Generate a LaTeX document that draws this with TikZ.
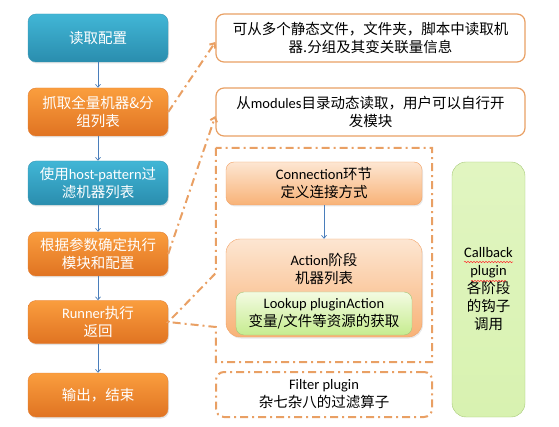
\documentclass[tikz,border=0pt]{standalone}
\usepackage{fontspec}
\setmainfont{Noto Sans CJK SC}
\newfontfamily\latinfont{Carlito}
\newcommand{\en}[1]{{\latinfont #1}}
\usepackage{tikz}
\usetikzlibrary{arrows.meta,positioning,shadows,decorations.pathmorphing}
\usepackage{xcolor}

\definecolor{tealtop}{HTML}{41B6D6}
\definecolor{tealbot}{HTML}{2A8DAE}
\definecolor{orgtop}{HTML}{FA9E3E}
\definecolor{orgbot}{HTML}{E07322}
\definecolor{peachtop}{HTML}{FDE6D2}
\definecolor{peachbot}{HTML}{F8B277}
\definecolor{peachline}{HTML}{F2A266}
\definecolor{limetop}{HTML}{F3FBE2}
\definecolor{limebot}{HTML}{C6EC8F}
\definecolor{limeline}{HTML}{A6C878}
\definecolor{noteline}{HTML}{E9A064}
\definecolor{flowblue}{HTML}{4A7EBB}

\begin{document}
\begin{tikzpicture}[x=1pt, y=-1pt,
  font=\fontsize{14.5}{18}\selectfont,
  stepbox/.style={rounded corners=8pt, minimum width=140pt, align=center,
    text=white, inner sep=2pt,
    drop shadow={opacity=0.22, shadow xshift=1pt, shadow yshift=-1.5pt}},
  tealbox/.style={stepbox, top color=tealtop, bottom color=tealbot, draw=tealbot!90},
  orgbox/.style={stepbox, top color=orgtop, bottom color=orgbot, draw=orgbot!90},
  notebox/.style={rounded corners=8pt, draw=noteline, line width=1.2pt, fill=white,
    minimum width=309pt, minimum height=48pt, align=center},
  peachbox/.style={rounded corners=8pt, top color=peachtop, bottom color=peachbot,
    draw=peachline, minimum width=196pt, align=center,
    drop shadow={opacity=0.18, shadow xshift=1pt, shadow yshift=-1.5pt}},
  limebox/.style={rounded corners=8pt, top color=limetop, bottom color=limebot,
    draw=limeline, align=center},
  dashdot/.style={draw=noteline, line width=2pt,
    dash pattern=on 8pt off 4pt on 2pt off 4pt},
  flow/.style={->, >={Straight Barb[length=3pt,width=5pt]}, draw=flowblue, line width=0.7pt},
  linkline/.style={dashdot, -{Straight Barb[length=4pt,width=7pt]}},
  squiggle/.style={red!80, line width=0.5pt,
    decorate, decoration={snake, amplitude=0.7pt, segment length=3pt}}
]
\useasboundingbox (0,0) rectangle (559,427);

% ---- main pipeline ---------------------------------------------------------
\node[tealbox, minimum height=48pt] (read)    at (98,38)  {读取配置};
\node[orgbox,  minimum height=48pt] (fetch)   at (98,112) {抓取全量机器\&分\\组列表};
\node[tealbox, minimum height=44pt] (hostpat) at (98,183) {使用\en{host-pattern}过\\滤机器列表};
\node[orgbox,  minimum height=44pt] (decide)  at (98,254) {根据参数确定执行\\模块和配置};
\node[orgbox,  minimum height=43pt] (runner)  at (98,322) {\en{Runner}执行\\返回};
\node[orgbox,  minimum height=44pt] (output)  at (98,395) {输出，结束};

\foreach \a/\b in {read/fetch, fetch/hostpat, hostpat/decide, decide/runner, runner/output}
  \draw[flow] (\a) -- (\b);

% ---- explanations ----------------------------------------------------------
\node[notebox] (inventory) at (370.5,38)
  {可从多个静态文件，文件夹，脚本中读取机\\器.分组及其变关联量信息};
\node[notebox] (modules) at (370.5,112)
  {从\en{modules}目录动态读取，用户可以自行开\\发模块};

% ---- runner internals (callout pointing at the runner) ---------------------
\node[minimum width=216pt, minimum height=214pt, inner sep=0pt] (runbox) at (324,255) {};
\draw[dashdot] (runbox.north west) -- ([yshift=-18pt]runbox.west) -- (runner.east)
  -- ([yshift=-72pt]runbox.west) -- (runbox.south west) -- (runbox.south east)
  -- (runbox.north east) -- cycle;

\node[peachbox, minimum height=43pt] (connection) at (324,183.5)
  {\en{Connection}环节\\定义连接方式};
\node[peachbox, rounded corners=14pt, minimum height=98pt] (action) at (324,288) {};
\node[anchor=north, align=center, inner sep=0pt] (actiontxt) at ([yshift=-14pt]action.north)
  {\en{Action}阶段\\机器列表};
\node[limebox, minimum width=176pt, minimum height=43pt] (lookup) at (324,313.5)
  {\en{Lookup pluginAction}\\变量/文件等资源的获取};
\draw[flow] (connection) -- (action);

\node[dashdot, rounded corners=8pt, minimum width=216pt, minimum height=45pt,
  align=center] (filter) at (324,394.5) {\en{Filter plugin}\\杂七杂八的过滤算子};

\node[limebox, rounded corners=14pt, top color=limetop!60!limebot, bottom color=limetop!40!limebot,
  minimum width=73pt, minimum height=255pt] (callback) at (488.5,289.5)
  {\en{Callback}\\\en{plugin}\\各阶段\\的钩子\\调用};
\draw[squiggle] (464,262) -- (513,262);
\draw[squiggle] (471,281) -- (506,281);

% ---- links -----------------------------------------------------------------
\draw[linkline] (fetch.east) -- ([yshift=-4pt]inventory.west);
\draw[linkline] (decide.east) -- ([yshift=-4pt]modules.west);

\end{tikzpicture}
\end{document}
